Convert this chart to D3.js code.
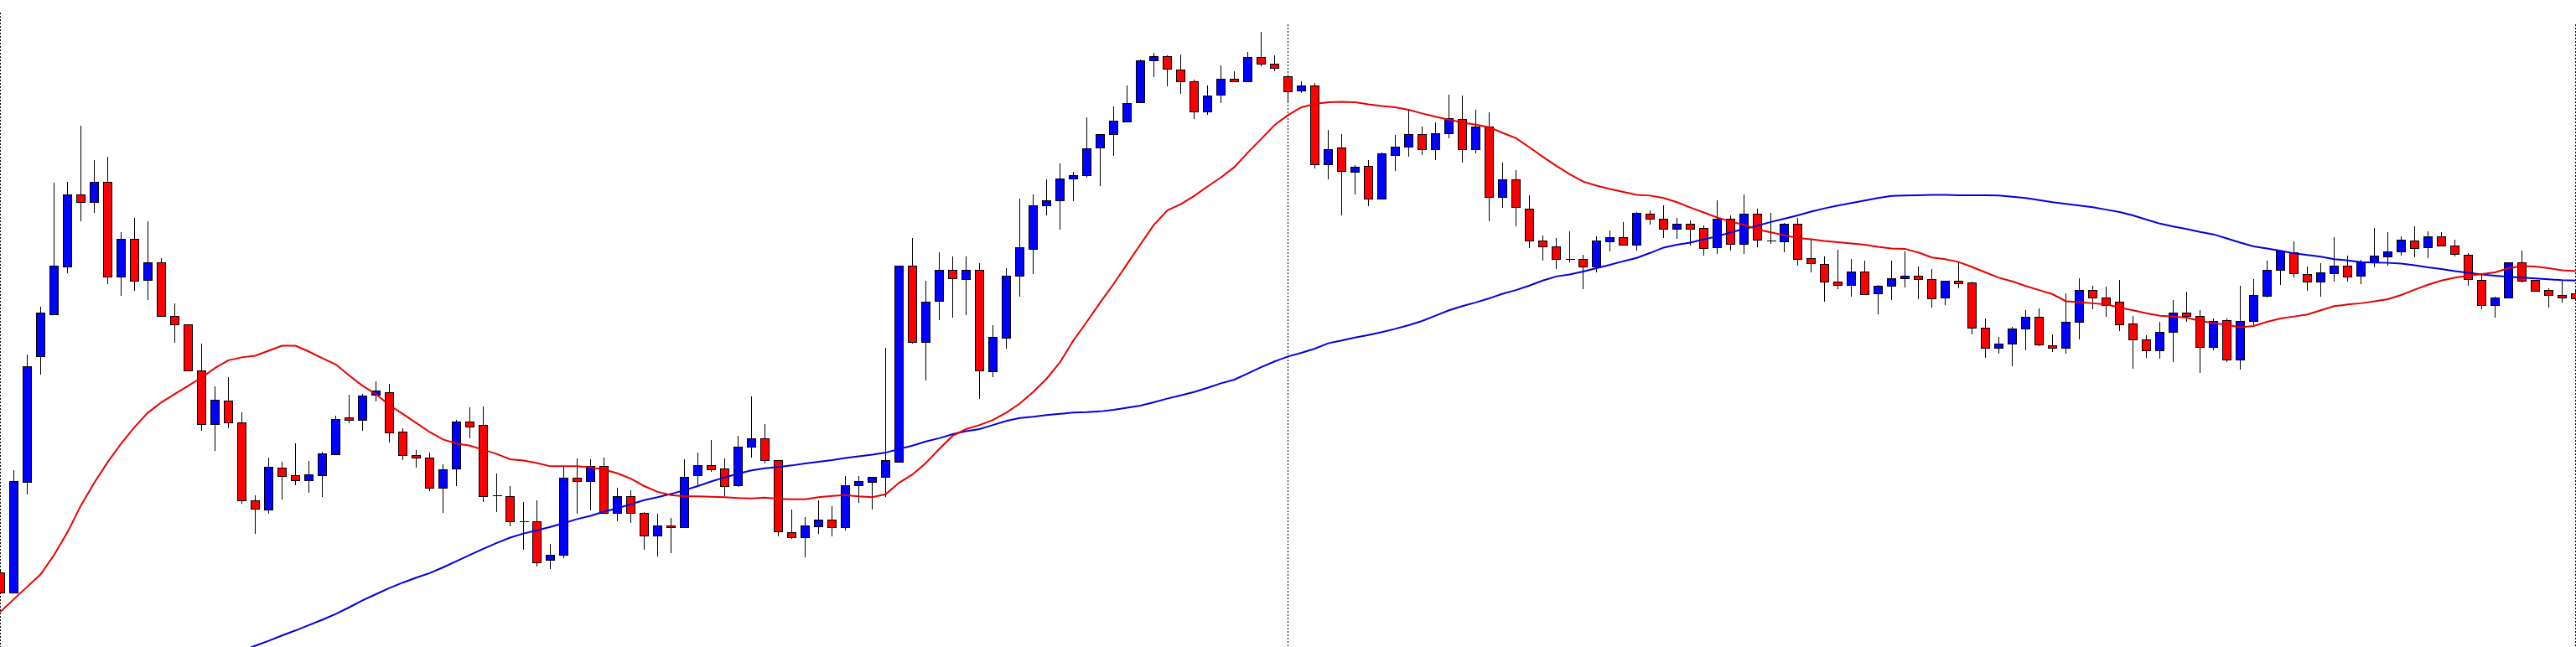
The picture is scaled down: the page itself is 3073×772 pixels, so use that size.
<!DOCTYPE html>
<html><head><meta charset="utf-8">
<script src="https://cdn.jsdelivr.net/npm/d3@7"></script>
<style>html,body{margin:0;padding:0;background:#fff;overflow:hidden}svg{display:block}</style>
</head><body>
<svg id="chart" width="3073" height="772"></svg>
<script>
const open = [
106.12,105.65,108.32,111.37,112.38,113.55,115.28,115.10,115.60,113.30,
114.22,113.22,113.65,112.35,112.13,111.03,109.72,110.30,109.77,107.87,
107.66,108.67,108.48,108.37,108.49,109.00,109.88,109.83,110.43,110.50,
109.53,108.97,108.92,108.18,108.65,109.78,109.70,108.00,107.98,107.37,
107.37,106.43,106.55,108.42,108.35,108.70,107.57,107.97,107.57,107.02,
107.27,107.22,108.48,108.72,108.64,108.24,109.18,109.37,108.85,107.10,
106.98,107.25,107.40,107.22,108.24,108.32,108.45,108.80,113.57,111.72,
112.70,113.47,113.23,113.47,111.00,111.82,113.32,113.97,115.02,115.15,
115.68,115.75,116.42,116.75,117.05,117.52,118.53,118.63,118.32,118.02,
117.30,117.70,118.10,118.02,118.62,118.45,118.15,117.80,117.92,116.02,
116.43,115.83,115.97,115.18,116.25,116.45,116.75,116.38,116.78,117.12,
116.38,116.94,115.22,115.65,114.95,114.17,114.03,113.72,113.72,113.55,
114.16,114.25,114.07,114.82,114.70,114.45,114.58,114.47,114.00,114.70,
114.08,114.82,114.18,114.16,114.58,113.75,113.60,113.17,113.10,113.42,
112.90,113.07,113.25,113.32,113.23,112.78,113.20,113.15,112.05,111.57,
111.67,112.03,112.33,111.63,111.57,112.20,112.98,112.78,112.68,112.17,
111.77,111.50,111.95,112.42,112.35,111.60,112.25,111.28,112.23,112.84,
113.45,113.88,113.35,113.17,113.37,113.57,113.32,113.65,113.78,113.90,
114.18,114.00,114.28,114.04,113.82,113.22,112.60,112.78,113.64,113.22,
112.98,112.86,112.90];
const high = [
106.20,108.60,111.40,112.57,115.57,115.60,116.95,116.12,116.20,114.37,
114.72,114.63,113.75,112.64,112.13,111.67,110.63,110.85,110.00,108.00,
108.92,108.80,109.25,108.82,109.05,109.93,110.43,110.45,110.75,110.70,
109.63,109.10,109.03,108.75,109.82,110.12,110.15,108.53,108.22,107.83,
107.87,106.82,108.70,108.88,108.87,108.92,108.17,108.12,107.60,107.55,
107.45,108.87,109.03,109.34,108.90,109.44,110.40,109.72,108.85,107.65,
107.47,107.87,107.73,108.47,108.47,108.45,111.57,113.57,114.23,113.20,
113.89,113.78,113.78,113.63,112.12,113.50,115.19,115.29,115.65,116.04,
115.84,117.15,116.75,117.42,117.93,118.55,118.72,118.65,118.67,118.08,
117.92,118.42,118.28,118.75,119.23,118.65,118.20,118.03,117.98,116.85,
116.75,116.00,116.13,116.30,116.73,117.34,116.93,117.03,117.70,117.68,
117.34,117.27,116.06,115.87,115.27,114.30,114.24,114.40,113.83,114.28,
114.42,114.62,114.86,114.90,115.03,114.72,114.65,114.53,115.15,114.78,
115.29,114.95,114.84,114.60,114.72,114.20,113.78,113.95,113.72,113.68,
113.10,113.68,113.90,113.55,113.48,113.20,113.65,113.17,112.28,111.83,
112.07,112.48,112.52,111.90,112.89,113.25,113.08,113.05,113.22,112.35,
111.87,112.20,112.73,112.93,112.48,112.28,112.28,113.07,113.23,113.68,
113.92,114.15,113.55,113.63,114.25,113.80,113.70,114.48,114.37,114.27,
114.52,114.40,114.37,114.20,113.87,113.35,112.82,113.64,113.92,113.22,
113.02,113.20,112.95];
const low = [
105.60,105.65,108.02,110.92,112.38,113.38,114.63,114.85,113.12,112.84,
112.96,112.72,112.35,111.70,111.00,109.57,109.07,109.63,107.80,107.07,
107.55,107.90,108.23,108.05,107.95,109.00,109.75,109.57,110.28,109.27,
108.84,108.67,108.10,107.57,108.22,109.38,107.83,107.60,107.25,106.67,
106.28,106.20,106.48,107.55,107.63,107.57,107.37,107.33,106.67,106.52,
106.60,107.22,108.25,108.57,107.98,108.20,108.92,108.77,107.00,106.95,
106.50,107.07,107.00,107.15,107.82,107.65,107.95,108.80,111.68,110.77,
112.25,112.30,112.37,110.33,110.85,111.55,112.82,113.35,114.79,114.44,
115.12,115.70,115.50,116.23,117.05,117.52,118.13,117.90,117.72,117.12,
117.22,117.50,118.02,118.00,118.40,118.27,117.55,117.75,115.92,115.65,
114.79,115.28,115.00,115.18,115.86,116.20,116.25,116.13,116.64,116.05,
116.28,114.63,114.97,114.52,113.98,113.68,113.48,113.65,113.00,113.40,
113.90,114.07,113.93,114.55,114.23,114.22,114.05,113.80,113.85,113.92,
113.84,114.00,114.08,113.88,113.57,113.40,112.68,113.00,112.82,112.85,
112.38,112.73,113.04,112.74,112.55,112.60,113.02,111.90,111.33,111.43,
111.13,111.50,111.62,111.47,111.43,111.78,112.50,112.32,111.97,111.07,
111.32,111.30,111.22,112.20,110.97,111.52,111.23,111.05,112.10,112.78,
113.10,113.28,112.95,112.80,113.17,113.18,113.12,113.52,113.57,113.80,
113.77,113.75,114.04,113.78,113.08,112.50,112.30,112.78,113.15,112.95,
112.54,112.66,112.74];
const close = [
105.65,108.35,111.13,112.43,113.57,115.28,115.10,115.60,113.30,114.22,
113.20,113.65,112.35,112.13,111.03,109.72,110.32,109.77,107.87,107.68,
108.69,108.47,108.37,108.50,109.01,109.85,109.83,110.42,110.53,109.52,
108.97,108.92,108.18,108.62,109.78,109.67,107.98,108.00,107.37,107.37,
106.38,106.55,108.42,108.35,108.70,107.57,107.97,107.57,107.02,107.27,
107.22,108.45,108.72,108.62,108.22,109.17,109.37,108.85,107.12,106.98,
107.27,107.40,107.22,108.23,108.34,108.45,108.85,113.57,111.72,112.68,
113.45,113.25,113.47,111.03,111.83,113.32,114.00,115.02,115.14,115.68,
115.75,116.40,116.75,117.07,117.50,118.53,118.63,118.33,118.02,117.30,
117.69,118.09,118.02,118.62,118.45,118.35,117.78,117.92,116.02,116.38,
115.86,115.96,115.18,116.28,116.45,116.75,116.38,116.78,117.13,116.38,
116.94,115.22,115.65,114.98,114.17,114.03,113.72,113.72,113.55,114.17,
114.25,114.07,114.84,114.70,114.45,114.57,114.45,113.98,114.70,114.08,
114.82,114.20,114.18,114.57,113.73,113.62,113.17,113.10,113.42,112.88,
113.07,113.25,113.32,113.23,112.77,113.20,113.14,112.05,111.57,111.67,
112.03,112.32,111.65,111.57,112.20,112.98,112.78,112.60,112.14,111.77,
111.50,111.95,112.42,112.35,111.60,112.23,111.28,112.22,112.85,113.45,
113.92,113.38,113.17,113.40,113.57,113.30,113.67,113.80,113.90,114.20,
113.98,114.28,114.04,113.84,113.23,112.60,112.78,113.64,113.19,112.96,
112.86,112.78,112.76];
const maFast = [
105.17,105.48,105.78,106.08,106.55,107.10,107.75,108.30,108.80,109.25,
109.65,110.00,110.25,110.45,110.65,110.85,111.08,111.27,111.34,111.38,
111.50,111.62,111.62,111.48,111.32,111.17,110.90,110.65,110.45,110.18,
109.97,109.75,109.53,109.35,109.25,109.20,109.10,109.00,108.87,108.84,
108.78,108.70,108.70,108.70,108.67,108.62,108.53,108.40,108.22,108.08,
108.00,107.97,107.97,107.96,107.95,107.93,107.92,107.94,107.91,107.90,
107.90,107.95,107.98,108.00,107.97,107.95,108.02,108.30,108.50,108.78,
109.12,109.44,109.60,109.70,109.82,110.00,110.22,110.50,110.82,111.22,
111.75,112.20,112.67,113.12,113.60,114.08,114.55,114.90,115.05,115.25,
115.48,115.70,115.95,116.30,116.63,116.97,117.21,117.40,117.48,117.52,
117.53,117.52,117.47,117.43,117.40,117.34,117.25,117.17,117.10,117.03,
116.98,116.92,116.78,116.65,116.43,116.20,115.98,115.78,115.60,115.50,
115.42,115.35,115.28,115.26,115.20,115.10,114.97,114.85,114.73,114.63,
114.55,114.44,114.37,114.30,114.23,114.20,114.16,114.13,114.10,114.07,
114.02,113.98,113.97,113.88,113.76,113.72,113.65,113.53,113.40,113.27,
113.18,113.07,112.97,112.87,112.70,112.68,112.65,112.62,112.55,112.48,
112.41,112.35,112.33,112.30,112.22,112.17,112.13,112.07,112.10,112.20,
112.28,112.33,112.38,112.48,112.58,112.62,112.65,112.70,112.75,112.85,
112.98,113.10,113.20,113.27,113.32,113.36,113.40,113.50,113.55,113.54,
113.50,113.45,113.43];
const maSlow = [
null,null,null,null,null,null,null,null,null,null,
null,null,null,null,null,null,null,null,104.22,104.35,
104.47,104.60,104.72,104.85,104.98,105.12,105.28,105.45,105.60,105.75,
105.88,106.00,106.11,106.25,106.40,106.55,106.70,106.84,106.97,107.07,
107.15,107.23,107.32,107.42,107.50,107.60,107.68,107.78,107.88,107.95,
108.03,108.12,108.22,108.33,108.43,108.52,108.60,108.65,108.68,108.72,
108.77,108.81,108.85,108.90,108.94,108.98,109.03,109.12,109.20,109.30,
109.38,109.48,109.55,109.60,109.70,109.80,109.87,109.90,109.94,109.97,
110.00,110.01,110.03,110.07,110.12,110.17,110.25,110.34,110.42,110.50,
110.60,110.71,110.80,110.95,111.10,111.24,111.36,111.45,111.55,111.68,
111.75,111.82,111.88,111.95,112.03,112.12,112.22,112.35,112.48,112.58,
112.67,112.77,112.88,112.97,113.08,113.20,113.30,113.35,113.42,113.50,
113.58,113.67,113.75,113.87,114.00,114.07,114.12,114.20,114.27,114.37,
114.45,114.53,114.62,114.70,114.78,114.87,114.95,115.02,115.08,115.14,
115.20,115.25,115.26,115.27,115.28,115.28,115.27,115.27,115.27,115.26,
115.23,115.20,115.15,115.10,115.06,115.02,114.98,114.92,114.86,114.78,
114.68,114.58,114.51,114.45,114.38,114.32,114.22,114.12,114.03,113.98,
113.92,113.86,113.82,113.78,113.72,113.69,113.65,113.64,113.63,113.61,
113.57,113.52,113.48,113.43,113.39,113.35,113.32,113.29,113.27,113.25,
113.23,113.21,113.20];
const separatorBars = [0, 96, 192];

const W = 3073, H = 772;
const n = open.length;
const bars = d3.range(n).map(i => ({i, o: open[i], h: high[i], l: low[i], c: close[i]}));
const x = d3.scaleLinear().domain([0, n - 1]).range([0.5, 3072.5]);
const y = d3.scaleLinear().domain([104.32, 120]).range([H, 0]);

const svg = d3.select('#chart');
svg.append('rect').attr('width', W).attr('height', H).attr('fill', '#fff');

// period separators
svg.append('g').selectAll('line').data(separatorBars).join('line')
  .attr('x1', d => x(d)).attr('x2', d => x(d))
  .attr('y1', d => d === 0 ? 15 : 29).attr('y2', H)
  .attr('stroke', '#000').attr('stroke-width', 1).attr('stroke-dasharray', '2,2')
  .attr('shape-rendering', 'crispEdges');

const g = svg.append('g');
// wicks
g.selectAll('line.wick').data(bars).join('line').attr('class', 'wick')
  .attr('x1', d => x(d.i)).attr('x2', d => x(d.i))
  .attr('y1', d => y(d.h)).attr('y2', d => y(d.l))
  .attr('stroke', '#000').attr('stroke-width', 1).attr('shape-rendering', 'crispEdges');
// bodies
g.selectAll('rect.body').data(bars.filter(d => d.o !== d.c)).join('rect').attr('class', 'body')
  .attr('x', d => x(d.i) - 5).attr('width', 10)
  .attr('y', d => Math.round(y(Math.max(d.o, d.c))) + 0.5)
  .attr('height', d => Math.max(1, Math.round(y(Math.min(d.o, d.c))) - Math.round(y(Math.max(d.o, d.c)))))
  .attr('fill', d => d.c > d.o ? '#0000ff' : '#ff0000')
  .attr('stroke', '#000').attr('stroke-width', 1).attr('shape-rendering', 'crispEdges');
// doji
g.selectAll('line.doji').data(bars.filter(d => d.o === d.c)).join('line').attr('class', 'doji')
  .attr('x1', d => x(d.i) - 5).attr('x2', d => x(d.i) + 6)
  .attr('y1', d => Math.round(y(d.o)) + 0.5).attr('y2', d => Math.round(y(d.o)) + 0.5)
  .attr('stroke', '#000').attr('stroke-width', 1).attr('shape-rendering', 'crispEdges');

// moving averages
const line = arr => d3.line().defined(i => arr[i] !== null).x(i => x(i)).y(i => y(arr[i]));
svg.append('path').datum(d3.range(n)).attr('d', line(maSlow))
  .attr('fill', 'none').attr('stroke', '#0000e0').attr('stroke-width', 2);
svg.append('path').datum(d3.range(n)).attr('d', line(maFast))
  .attr('fill', 'none').attr('stroke', '#e80000').attr('stroke-width', 2);
</script>
</body></html>
